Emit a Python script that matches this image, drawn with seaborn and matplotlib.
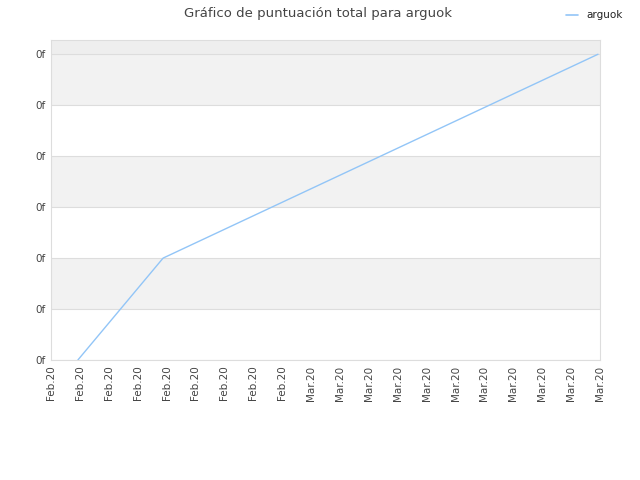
import matplotlib
matplotlib.use("Agg")
import matplotlib.pyplot as plt
import seaborn as sns
import pandas as pd

# Data (positions on the categorical date axis, score values)
x_labels = ["Feb.20"] * 9 + ["Mar.20"] * 11
x_pos = [0.93, 3.88, 18.93]
scores = [0, 2, 6]
y_ticks = [0, 1, 2, 3, 4, 5, 6]
y_labels = ["0f"] * 7
series_name = "arguok"

df = pd.DataFrame({"x": x_pos, "score": scores, "serie": series_name})

sns.set_style("white")
plt.rcParams['font.family'] = ['DejaVu Sans']

fig = plt.figure(figsize=(6.4, 4.8), dpi=100)
ax = fig.add_axes([51/640, 120/480, 549/640, 320/480])

text_c = "#444444"
grid_c = "#dddddd"

# alternating bands
for i in range(6):
    if i % 2 == 1:
        ax.axhspan(i, i + 1, color="#f2f2f2", zorder=0, lw=0)
ax.axhspan(6, 6.28, color="#eeeeee", zorder=0, lw=0)
for t in y_ticks:
    ax.axhline(t, color=grid_c, lw=0.8, zorder=1)

sns.lineplot(data=df, x="x", y="score", hue="serie", palette=["#92c5f7"],
             ax=ax, lw=1.0, zorder=3, legend=False)

ax.set_xlim(0, 19)
ax.set_ylim(0, 6.28)
ax.set_xticks(range(len(x_labels)))
ax.set_xticklabels(x_labels, rotation=90, fontsize=7.5, color=text_c)
ax.set_yticks(y_ticks)
ax.set_yticklabels(y_labels, fontsize=7.5, color=text_c)
ax.tick_params(axis="both", length=0, pad=4)
ax.set_xlabel("")
ax.set_ylabel("")
for s in ax.spines.values():
    s.set_color(grid_c)
    s.set_linewidth(0.8)

fig.text(318/640, 1 - 13/480, "Gráfico de puntuación total para arguok",
         ha="center", va="center", fontsize=9.5, color=text_c)

# legend
fig.lines.append(plt.Line2D([566/640, 578/640], [1 - 15/480, 1 - 15/480],
                            transform=fig.transFigure, color="#92c5f7", lw=1.2))
fig.text(586/640, 1 - 15/480, series_name, ha="left", va="center",
         fontsize=7.5, color="#222222")

fig.savefig("out.png", dpi=100)
